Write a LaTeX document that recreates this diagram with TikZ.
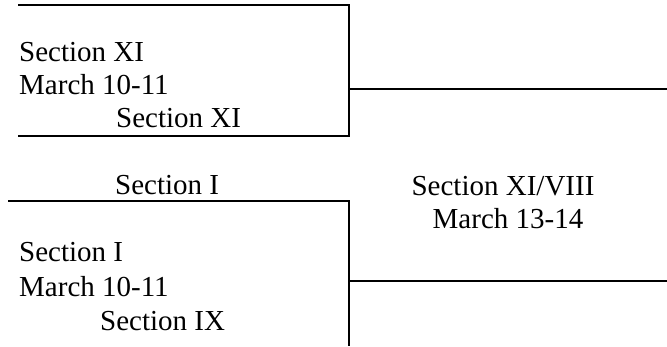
\documentclass[tikz,border=0pt]{standalone}
\usepackage{fontspec}
\setmainfont{Liberation Serif}
\begin{document}
\begin{tikzpicture}[x=1pt,y=-1pt,
  lbl/.style={anchor=base west,inner sep=0pt,font=\fontsize{29}{34}\selectfont},
  clbl/.style={anchor=base,inner sep=0pt,font=\fontsize{29}{34}\selectfont},
  bracket/.style={line width=2pt,black}]
\useasboundingbox (0,0) rectangle (667,346);
% top bracket
\coordinate (t1) at (18,5);
\coordinate (t2) at (349,5);
\coordinate (t3) at (349,136);
\coordinate (t4) at (18,136);
\coordinate (tm) at (349,89);
\coordinate (te) at (667,89);
\draw[bracket] (t1) -- (t2) -- (t3) -- (t4);
\draw[bracket] (tm) -- (te);
\node[lbl] (a1) at (19,61) {Section XI};
\node[lbl] (a2) at (19,94) {March 10-11};
\node[lbl] (a3) at (116,127) {Section XI};
% bottom bracket
\coordinate (b1) at (8,201);
\coordinate (b2) at (349,201);
\coordinate (b3) at (349,346);
\coordinate (bm) at (349,281);
\coordinate (be) at (667,281);
\draw[bracket] (b1) -- (b2) -- (b3);
\draw[bracket] (bm) -- (be);
\node[lbl] (c0) at (115,194) {Section I};
\node[lbl] (c1) at (19,261) {Section I};
\node[lbl] (c2) at (19,296) {March 10-11};
\node[lbl] (c3) at (100,330) {Section IX};
% winner
\node[clbl] (w1) at (503,195) {Section XI/VIII};
\node[clbl] (w2) at (508,228) {March 13-14};
\end{tikzpicture}
\end{document}
